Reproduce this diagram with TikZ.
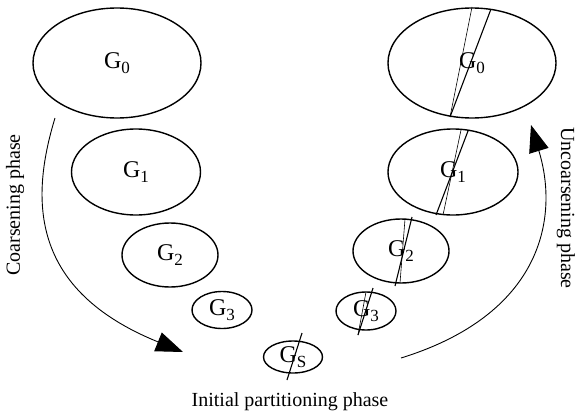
\documentclass[tikz,border=0pt]{standalone}
\usepackage{fontspec}
\setmainfont{Liberation Serif}
\usetikzlibrary{arrows.meta,shapes.geometric,calc}
\newcommand{\gr}[1]{G\raisebox{-0.22em}{\fontsize{17}{17}\selectfont #1}}

\begin{document}
\begin{tikzpicture}[x=1pt,y=-1pt,font=\fontsize{20}{24}\selectfont,
  graph/.style={draw,ellipse,line width=1.4pt,inner sep=0pt,font=\fontsize{24}{28}\selectfont},
  cut/.style={line width=0.6pt},
  bigcut/.style={line width=1.1pt},
  phase/.style={line width=0.9pt,-{Triangle[length=27pt,width=20pt]}}]
\useasboundingbox (0,0) rectangle (577,417);
\node[graph,minimum width=168pt,minimum height=110pt] (l0) at (117,63) {\gr{0}};
\node[graph,minimum width=129pt,minimum height=86pt] (l1) at (136,172) {\gr{1}};
\node[graph,minimum width=96pt,minimum height=64pt] (l2) at (170,255) {\gr{2}};
\node[graph,minimum width=60pt,minimum height=37pt] (l3) at (222,310) {\gr{3}};
\node[graph,minimum width=59pt,minimum height=32pt] (s) at (293,357) {\gr{S}};
\node[graph,minimum width=168pt,minimum height=110pt] (r0) at (472,63) {\gr{0}};
\node[graph,minimum width=130pt,minimum height=86pt] (r1) at (453,172) {\gr{1}};
\node[graph,minimum width=96pt,minimum height=64pt] (r2) at (401,251) {\gr{2}};
\node[graph,minimum width=60pt,minimum height=38pt] (r3) at (366,311) {\gr{3}};
% partition cuts
\draw[cut] ($(r0)+(0,-56)$) -- ($(r0)+(-22,54)$);
\draw[bigcut] ($(r0)+(19,-54)$) -- ($(r0)+(-22,54)$);
\draw[cut] ($(r1)+(8,-42)$) -- ($(r1)+(-10,43)$);
\draw[bigcut] ($(r1)+(15,-41)$) -- ($(r1)+(-17,43)$);
\draw[cut] ($(r2)+(4,-32)$) -- ($(r2)+(-1,32)$);
\draw[bigcut] ($(r2)+(11,-34)$) -- ($(r2)+(-6,35)$);
\draw[cut] ($(r3)+(0,-19)$) -- ($(r3)+(-8,24)$);
\draw[bigcut] ($(r3)+(7,-23)$) -- ($(r3)+(-8,24)$);
\draw[bigcut] ($(s)+(9,-24)$) -- ($(s)+(-6,23)$);
% phases
\coordinate (cs) at (55,118);
\coordinate (ce) at (183,352);
\coordinate (us) at (401,358);
\coordinate (ue) at (531,125);
\draw[phase] (cs) .. controls (30,200) and (30,290) .. (ce);
\draw[phase] (us) .. controls (540,315) and (560,220) .. (ue);
\node[rotate=90] (cl) at (15,205) {Coarsening phase};
\node[rotate=-90] (ul) at (566,208) {Uncoarsening phase};
\node (il) at (290,402) {Initial partitioning phase};
\end{tikzpicture}
\end{document}
